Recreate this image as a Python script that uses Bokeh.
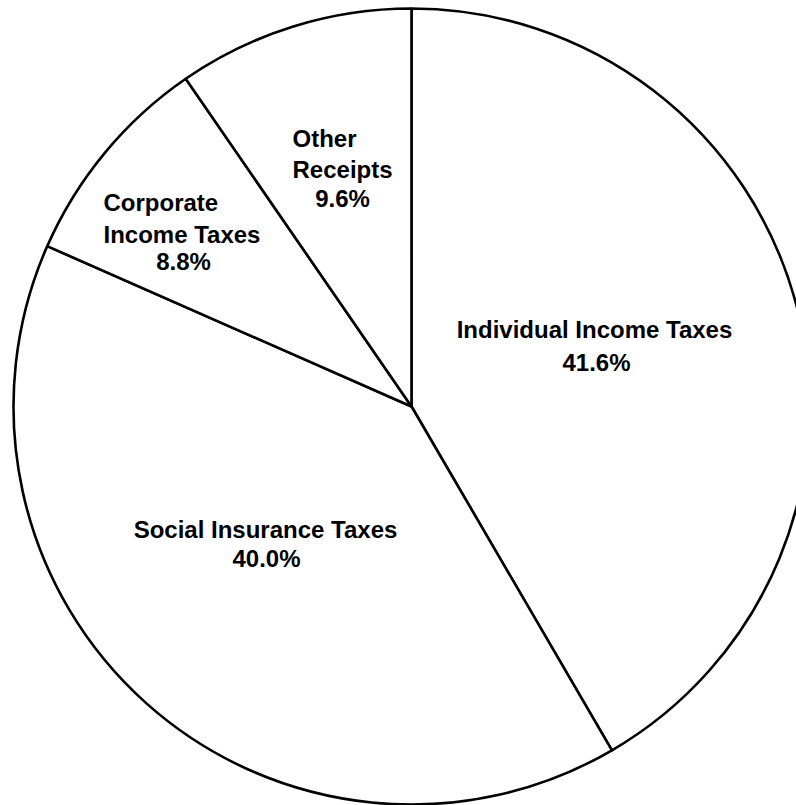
import math
from bokeh.plotting import figure
from bokeh.models import Range1d, ColumnDataSource
from bokeh.core.properties import value
from bokeh.embed import file_html
from bokeh.resources import INLINE

# ---- data ----
categories = ["Individual Income Taxes", "Social Insurance Taxes",
              "Corporate Income Taxes", "Other Receipts"]
shares = [41.6, 40.0, 8.8, 9.6]

# ---- layout (pixel positions measured top-down) ----
W, H = 796, 805
CX, CY, R = 411, 406, 398
label_lines = [["Individual Income Taxes"], ["Social Insurance Taxes"],
               ["Corporate", "Income Taxes"], ["Other", "Receipts"]]
# (x, y, align) for each text line, then for the percentage
label_pos = [
    [(594, 329, "center")],
    [(265, 529, "center")],
    [(103, 202, "left"), (103, 234, "left")],
    [(292, 138, "left"), (292, 169, "left")],
]
pct_pos = [(596, 362), (266, 558), (183, 261), (342, 198)]

p = figure(width=W, height=H, output_backend="svg", toolbar_location=None,
           x_range=Range1d(0, W), y_range=Range1d(0, H), min_border=0)
p.axis.visible = False
p.grid.visible = False
p.outline_line_color = None
p.background_fill_color = "white"
p.border_fill_color = "white"

total = sum(shares)
starts, ends = [], []
cum = 0.0
for s in shares:
    starts.append(math.radians(90 - 360 * cum / total))
    cum += s
    ends.append(math.radians(90 - 360 * cum / total))

src = ColumnDataSource(dict(cat=categories, share=shares, start=starts, end=ends))
p.wedge(x=CX, y=H - CY, radius=R, start_angle="start", end_angle="end",
        direction="clock", source=src, fill_color="white",
        line_color="black", line_width=2.6)

tx, ty, tt, ta = [], [], [], []
for lines, poss in zip(label_lines, label_pos):
    for t, (x, y, a) in zip(lines, poss):
        tx.append(x); ty.append(H - y); tt.append(t); ta.append(a)
for s, (x, y) in zip(shares, pct_pos):
    tx.append(x); ty.append(H - y); tt.append(f"{s:.1f}%"); ta.append("center")

tsrc = ColumnDataSource(dict(x=tx, y=ty, text=tt, align=ta))
p.text(x="x", y="y", text="text", source=tsrc, text_align="align",
       text_baseline="middle", text_font=value("Liberation Sans"),
       text_font_style="bold", text_font_size="24px", text_color="black")

open("out.html", "w").write(file_html(p, INLINE))
